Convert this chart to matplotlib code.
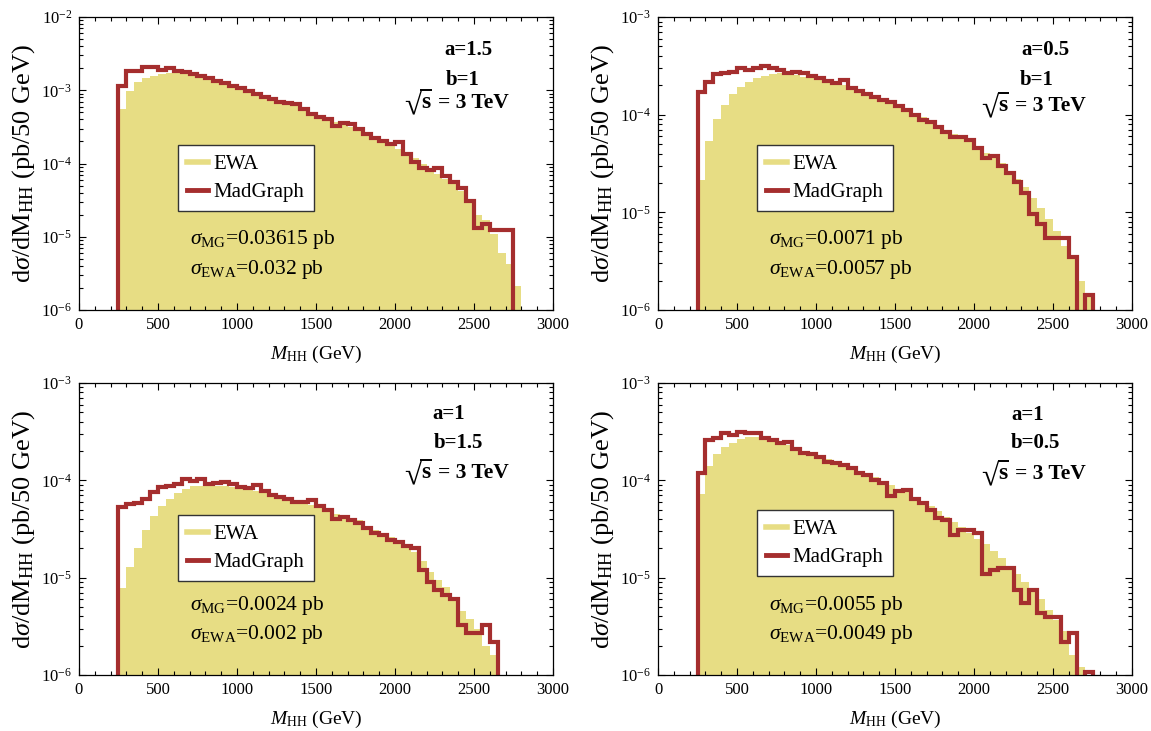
import numpy as np
import matplotlib
matplotlib.use("Agg")
import matplotlib.pyplot as plt
from matplotlib.lines import Line2D
from matplotlib.textpath import TextPath
from matplotlib.font_manager import FontProperties
from matplotlib.transforms import IdentityTransform
from matplotlib.ticker import LogLocator, MultipleLocator, LogFormatterSciNotation

plt.rcParams['font.family'] = 'serif'
plt.rcParams['font.serif'] = ['Liberation Serif', 'DejaVu Serif']
plt.rcParams['mathtext.fontset'] = 'custom'
plt.rcParams['mathtext.rm'] = 'Liberation Serif'
plt.rcParams['mathtext.it'] = 'Liberation Serif:italic'
plt.rcParams['mathtext.bf'] = 'Liberation Serif:bold'

# Histogram binning (GeV)
bin_start = 250
bin_width = 50

# a=1.5, b=1
mg_a15 = [1.15e-3, 1.83e-3, 1.83e-3, 2.10e-3, 2.05e-3, 1.90e-3, 2.00e-3, 1.85e-3, 1.75e-3, 1.68e-3,
          1.58e-3, 1.47e-3, 1.35e-3, 1.25e-3, 1.15e-3, 1.06e-3, 9.9e-4, 8.9e-4, 8.2e-4, 7.5e-4,
          7.0e-4, 6.8e-4, 6.5e-4, 5.5e-4, 4.7e-4, 4.35e-4, 4.0e-4, 3.3e-4, 3.6e-4, 3.45e-4,
          3.0e-4, 2.5e-4, 2.25e-4, 2.05e-4, 1.85e-4, 1.95e-4, 1.35e-4, 1.05e-4, 8.8e-5, 8.2e-5,
          8.8e-5, 6.8e-5, 5.6e-5, 4.6e-5, 3.1e-5, 1.3e-5, 1.5e-5, 1.25e-5, 1.25e-5, 1.25e-5]
ewa_a15 = [5.5e-4, 9.9e-4, 1.31e-3, 1.46e-3, 1.57e-3, 1.67e-3, 1.74e-3, 1.77e-3, 1.74e-3, 1.68e-3,
           1.60e-3, 1.50e-3, 1.38e-3, 1.27e-3, 1.17e-3, 1.08e-3, 1.0e-3, 9.2e-4, 8.4e-4, 7.7e-4,
           7.2e-4, 6.6e-4, 6.1e-4, 5.6e-4, 5.0e-4, 4.5e-4, 4.1e-4, 3.7e-4, 3.4e-4, 3.2e-4,
           2.95e-4, 2.6e-4, 2.3e-4, 2.05e-4, 1.8e-4, 1.6e-4, 1.4e-4, 1.2e-4, 1.0e-4, 8.3e-5,
           7.2e-5, 6.2e-5, 5.3e-5, 4.2e-5, 3.2e-5, 2.0e-5, 1.7e-5, 1.1e-5, 6.0e-6, 4.3e-6,
           2.1e-6]

# a=0.5, b=1
mg_a05 = [1.7e-4, 2.18e-4, 2.6e-4, 2.7e-4, 2.75e-4, 2.98e-4, 2.86e-4, 3.0e-4, 3.18e-4, 3.0e-4,
          2.86e-4, 2.7e-4, 2.75e-4, 2.65e-4, 2.5e-4, 2.36e-4, 2.23e-4, 2.1e-4, 2.26e-4, 1.86e-4,
          1.73e-4, 1.62e-4, 1.53e-4, 1.43e-4, 1.36e-4, 1.23e-4, 1.12e-4, 9.9e-5, 8.9e-5, 8.5e-5,
          7.4e-5, 6.7e-5, 5.96e-5, 5.96e-5, 5.5e-5, 4.6e-5, 3.57e-5, 3.77e-5, 3.0e-5, 2.5e-5,
          2.06e-5, 1.59e-5, 9.7e-6, 7.6e-6, 5.5e-6, 5.5e-6, 5.5e-6, 3.5e-6, 0.0, 1.43e-6]
ewa_a05 = [2.14e-5, 5.4e-5, 9.0e-5, 1.26e-4, 1.62e-4, 1.9e-4, 2.18e-4, 2.36e-4, 2.5e-4, 2.6e-4,
           2.65e-4, 2.6e-4, 2.55e-4, 2.45e-4, 2.36e-4, 2.3e-4, 2.2e-4, 2.1e-4, 2.0e-4, 1.9e-4,
           1.78e-4, 1.66e-4, 1.55e-4, 1.45e-4, 1.36e-4, 1.26e-4, 1.15e-4, 1.05e-4, 9.5e-5, 8.8e-5,
           7.5e-5, 6.9e-5, 6.3e-5, 5.8e-5, 5.3e-5, 4.7e-5, 4.1e-5, 3.6e-5, 3.2e-5, 2.6e-5,
           2.2e-5, 1.8e-5, 1.4e-5, 1.1e-5, 8.5e-6, 6.5e-6, 4.5e-6, 3.3e-6, 2.0e-6, 1.4e-6]

# a=1, b=1.5
mg_b15 = [5.3e-5, 5.7e-5, 5.9e-5, 6.5e-5, 7.66e-5, 8.6e-5, 8.7e-5, 9.1e-5, 1.02e-4, 9.9e-5,
          1.02e-4, 9.1e-5, 9.4e-5, 9.7e-5, 9.1e-5, 8.6e-5, 8.3e-5, 9.0e-5, 7.7e-5, 7.1e-5,
          6.7e-5, 6.5e-5, 6.0e-5, 6.0e-5, 6.3e-5, 5.4e-5, 5.0e-5, 4.0e-5, 4.2e-5, 3.9e-5,
          3.67e-5, 3.2e-5, 2.9e-5, 2.74e-5, 2.44e-5, 2.3e-5, 2.1e-5, 2.0e-5, 1.2e-5, 9.1e-6,
          7.5e-6, 6.7e-6, 6.0e-6, 3.3e-6, 2.7e-6, 2.7e-6, 3.3e-6, 2.2e-6]
ewa_b15 = [7.8e-6, 1.3e-5, 2.04e-5, 3.1e-5, 4.3e-5, 5.5e-5, 6.5e-5, 7.4e-5, 8.2e-5, 8.7e-5,
           8.8e-5, 8.7e-5, 8.8e-5, 8.8e-5, 8.6e-5, 8.3e-5, 8.1e-5, 7.8e-5, 7.4e-5, 7.1e-5,
           6.8e-5, 6.5e-5, 6.2e-5, 5.9e-5, 5.6e-5, 5.3e-5, 4.9e-5, 4.5e-5, 4.2e-5, 3.9e-5,
           3.9e-5, 3.4e-5, 3.1e-5, 2.85e-5, 2.6e-5, 2.35e-5, 2.1e-5, 1.85e-5, 1.5e-5, 1.15e-5,
           9.5e-6, 8.0e-6, 6.0e-6, 4.5e-6, 3.8e-6, 3.0e-6, 2.0e-6, 1.6e-6]

# a=1, b=0.5
mg_b05 = [1.18e-4, 2.6e-4, 2.7e-4, 3.09e-4, 2.93e-4, 3.16e-4, 3.09e-4, 3.09e-4, 2.7e-4, 2.6e-4,
          2.44e-4, 2.5e-4, 2.08e-4, 1.9e-4, 1.85e-4, 1.75e-4, 1.56e-4, 1.5e-4, 1.44e-4, 1.33e-4,
          1.18e-4, 1.14e-4, 1.0e-4, 9.3e-5, 6.9e-5, 7.7e-5, 8.0e-5, 6.5e-5, 5.8e-5, 5.0e-5,
          4.07e-5, 3.9e-5, 2.75e-5, 3.1e-5, 3.1e-5, 2.9e-5, 1.1e-5, 1.2e-5, 1.27e-5, 1.25e-5,
          7.4e-6, 5.5e-6, 7.4e-6, 4.3e-6, 3.9e-6, 3.9e-6, 2.2e-6, 2.7e-6, 0.0, 1.08e-6]
ewa_b05 = [7.3e-5, 1.4e-4, 1.86e-4, 2.18e-4, 2.44e-4, 2.64e-4, 2.77e-4, 2.77e-4, 2.64e-4, 2.5e-4,
           2.4e-4, 2.3e-4, 2.15e-4, 2.0e-4, 1.88e-4, 1.77e-4, 1.66e-4, 1.55e-4, 1.45e-4, 1.35e-4,
           1.25e-4, 1.16e-4, 1.07e-4, 9.8e-5, 9.0e-5, 8.2e-5, 7.5e-5, 6.8e-5, 6.1e-5, 5.4e-5,
           4.8e-5, 4.2e-5, 3.7e-5, 3.3e-5, 2.9e-5, 2.5e-5, 2.2e-5, 1.9e-5, 1.6e-5, 1.3e-5,
           1.1e-5, 9.0e-6, 7.5e-6, 6.0e-6, 4.6e-6, 3.7e-6, 2.8e-6, 1.6e-6, 1.2e-6]

param_a = ['1.5', '0.5', '1', '1']
param_b = ['1', '1', '1.5', '0.5']
sigma_mg = ['0.03615', '0.0071', '0.0024', '0.0055']
sigma_ewa = ['0.032', '0.0057', '0.002', '0.0049']
y_top = [1e-2, 1e-3, 1e-3, 1e-3]
x_ticks = [0, 500, 1000, 1500, 2000, 2500, 3000]

EWA_COLOR = '#E7DD84'
MG_COLOR = '#A52E2E'

panels = [
    dict(mg=mg_a15, ewa=ewa_a15, rect=[0.0686, 0.5759, 0.4118, 0.4008],
         leg=(0.209, 0.563), txt_y=(0.887, 0.785), txt_x=(0.821, 0.810), rad=(0.688, 0.690)),
    dict(mg=mg_a05, ewa=ewa_a05, rect=[0.5717, 0.5759, 0.4118, 0.4008],
         leg=(0.209, 0.563), txt_y=(0.887, 0.785), txt_x=(0.818, 0.799), rad=(0.684, 0.680)),
    dict(mg=mg_b15, ewa=ewa_b15, rect=[0.0686, 0.0766, 0.4118, 0.3995],
         leg=(0.209, 0.548), txt_y=(0.893, 0.795), txt_x=(0.780, 0.800), rad=(0.688, 0.675)),
    dict(mg=mg_b05, ewa=ewa_b05, rect=[0.5717, 0.0766, 0.4118, 0.3995],
         leg=(0.209, 0.565), txt_y=(0.890, 0.795), txt_x=(0.780, 0.797), rad=(0.684, 0.672)),
]

fig = plt.figure(figsize=(11.51, 7.31), dpi=100)
PX = fig.dpi / 72.0
FP_BOLD = FontProperties(family='Liberation Serif', weight='bold')


def ink_box(s, size):
    """Ink extents (in pixels, relative to the text origin) of a bold string."""
    e = TextPath((0, 0), s, size=size, prop=FP_BOLD).get_extents()
    return e.x0 * PX, e.y0 * PX, e.x1 * PX, e.y1 * PX


def draw_sqrt_label(ax, fx, fy):
    """Draw a large bold radical over 's' followed by '= 3 TeV'."""
    left, base = ax.transAxes.transform((fx, fy))
    rad_height, rad_drop = 25.0, 6.0
    unit = ink_box('\u221a', 10.0)
    rad_size = 10.0 * rad_height / (unit[3] - unit[1])
    rx0, ry0, rx1, ry1 = ink_box('\u221a', rad_size)
    ox = left - rx0
    oy = base - rad_drop - ry0
    fig.text(ox, oy, '\u221a', transform=IdentityTransform(), fontsize=rad_size,
             fontweight='bold', ha='left', va='baseline')
    top = oy + ry1
    right = ox + rx1
    s_size = 17
    sx0, sy0, sx1, sy1 = ink_box('s', s_size)
    s_ox = right + 0.5 - sx0
    fig.text(s_ox, base, 's', transform=IdentityTransform(), fontsize=s_size,
             fontweight='bold', ha='left', va='baseline')
    bar_end = s_ox + sx1 + 2
    fig.add_artist(Line2D([right - 1, bar_end], [top - 0.9, top - 0.9],
                          transform=IdentityTransform(), color='black', lw=1.4,
                          solid_capstyle='butt'))
    fig.text(bar_end + 6, base, '= 3 TeV', transform=IdentityTransform(), fontsize=15.5,
             fontweight='bold', ha='left', va='baseline')


for i, p in enumerate(panels):
    ax = fig.add_axes(p['rect'])
    ax.set_yscale('log')

    ewa = np.asarray(p['ewa'], dtype=float)
    mg = np.asarray(p['mg'], dtype=float)
    ewa_edges = bin_start + bin_width * np.arange(len(ewa) + 1)
    mg_edges = bin_start + bin_width * np.arange(len(mg) + 1)

    ax.stairs(ewa, ewa_edges, fill=True, baseline=1e-12, color=EWA_COLOR, lw=0, zorder=1)
    ax.stairs(np.where(mg > 0, mg, 1e-12), mg_edges, baseline=1e-12, fill=False,
              color=MG_COLOR, lw=3.0, zorder=2, joinstyle='miter')

    ax.set_xlim(0, 3000)
    ax.set_ylim(1e-6, y_top[i])

    ax.set_xticks(x_ticks)
    ax.xaxis.set_minor_locator(MultipleLocator(100))
    ax.yaxis.set_major_locator(LogLocator(base=10, numticks=10))
    ax.yaxis.set_minor_locator(LogLocator(base=10, subs=np.arange(2, 10), numticks=20))
    ax.yaxis.set_major_formatter(LogFormatterSciNotation())
    ax.tick_params(which='both', direction='in', top=True, right=True, width=0.8)
    ax.tick_params(which='major', length=5, labelsize=12, pad=5)
    ax.tick_params(which='minor', length=2.6)
    for s in ax.spines.values():
        s.set_linewidth(0.9)

    ax.set_xlabel(r'$M_{\rm HH}$ (GeV)', fontsize=14)
    ax.xaxis.set_label_coords(0.5, -0.115)
    ax.set_ylabel(r'd$\sigma$/dM$_{\rm HH}$ (pb/50 GeV)', fontsize=19)
    ax.yaxis.set_label_coords(-0.088, 0.5)

    handles = [Line2D([], [], color=EWA_COLOR, lw=4),
               Line2D([], [], color=MG_COLOR, lw=3.5)]
    leg = ax.legend(handles, ['EWA', 'MadGraph'], loc='upper left',
                    bbox_to_anchor=p['leg'], fontsize=15, frameon=True, fancybox=False,
                    edgecolor='#333333', framealpha=1, borderpad=0.45, handlelength=1.0,
                    handletextpad=0.25, labelspacing=0.4, borderaxespad=0)
    leg.get_frame().set_linewidth(1.0)

    ax.text(0.234, 0.239, r'$\sigma_{\rm MG}$=' + sigma_mg[i] + ' pb', transform=ax.transAxes,
            fontsize=15.5, ha='left', va='center')
    ax.text(0.234, 0.137, r'$\sigma_{\rm EWA}$=' + sigma_ewa[i] + ' pb', transform=ax.transAxes,
            fontsize=15.5, ha='left', va='center')

    tx, ty = p['txt_x'], p['txt_y']
    ax.text(tx[0], ty[0], 'a=' + param_a[i], transform=ax.transAxes, fontsize=15,
            fontweight='bold', ha='center', va='center')
    ax.text(tx[1], ty[1], 'b=' + param_b[i], transform=ax.transAxes, fontsize=15,
            fontweight='bold', ha='center', va='center')
    draw_sqrt_label(ax, *p['rad'])

fig.savefig('out.png', dpi=100)
